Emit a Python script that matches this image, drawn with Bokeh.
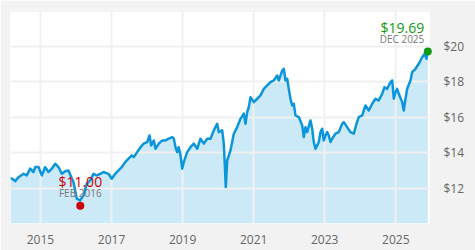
from bokeh.plotting import figure
from bokeh.models import FixedTicker, BoxAnnotation, Range1d
from bokeh.core.properties import value
from bokeh.embed import file_html
from bokeh.resources import INLINE

# ---- data (decimal year, NAV in $) ----
dates_2014 = [2014.147, 2014.240, 2014.288, 2014.381, 2014.522, 2014.614, 2014.710, 2014.803, 2014.851, 2014.944]
vals_2014 = [12.58, 12.47, 12.39, 12.61, 12.80, 12.71, 13.09, 12.90, 13.18, 13.18]
dates_2015 = [2015.037, 2015.132, 2015.225, 2015.318, 2015.414, 2015.507, 2015.600, 2015.695, 2015.788, 2015.929]
vals_2015 = [12.71, 13.18, 12.90, 13.09, 13.37, 13.18, 12.80, 12.95, 12.99, 12.33]
dates_2016 = [2016.022, 2016.117, 2016.210, 2016.303, 2016.399, 2016.492, 2016.585, 2016.680, 2016.773, 2016.914]
vals_2016 = [11.40, 11.30, 11.58, 12.24, 12.43, 12.80, 12.71, 12.80, 12.90, 12.80]
dates_2017 = [2017.007, 2017.102, 2017.195, 2017.288, 2017.384, 2017.477, 2017.570, 2017.626, 2017.722, 2017.815, 2017.907]
vals_2017 = [12.52, 12.80, 12.99, 13.18, 13.46, 13.65, 13.84, 13.74, 14.02, 14.30, 14.50]
dates_2018 = [2018.003, 2018.068, 2018.116, 2018.189, 2018.237, 2018.330, 2018.425, 2018.518, 2018.611, 2018.707,
              2018.752, 2018.800, 2018.847, 2018.892, 2018.940, 2018.988]
vals_2018 = [14.59, 14.96, 14.40, 14.68, 14.21, 14.50, 14.68, 14.68, 14.78, 14.87,
             14.78, 14.30, 14.02, 14.30, 13.84, 13.09]
dates_2019 = [2019.033, 2019.129, 2019.222, 2019.315, 2019.410, 2019.503, 2019.596, 2019.692, 2019.785, 2019.878, 2019.973]
vals_2019 = [13.46, 14.02, 14.30, 14.50, 14.21, 14.78, 14.50, 14.78, 14.78, 15.25, 15.62]
dates_2020 = [2020.018, 2020.114, 2020.159, 2020.187, 2020.215, 2020.255, 2020.348, 2020.441, 2020.536, 2020.629,
              2020.722, 2020.770, 2020.818, 2020.863, 2020.911]
vals_2020 = [15.15, 15.25, 14.50, 13.37, 12.05, 13.55, 14.12, 15.06, 15.43, 15.90,
             16.19, 15.62, 16.28, 16.56, 17.12]
dates_2021 = [2021.003, 2021.099, 2021.192, 2021.285, 2021.381, 2021.474, 2021.566, 2021.662, 2021.707, 2021.803,
              2021.848, 2021.896, 2021.944, 2021.988]
vals_2021 = [16.84, 17.03, 17.22, 17.59, 17.78, 17.97, 18.06, 18.34, 18.06, 18.62,
             18.72, 18.06, 18.16, 17.59]
dates_2022 = [2022.036, 2022.084, 2022.129, 2022.177, 2022.270, 2022.366, 2022.411, 2022.458, 2022.506, 2022.599,
              2022.647, 2022.692, 2022.740, 2022.788, 2022.833, 2022.881, 2022.928, 2022.974]
vals_2022 = [17.03, 16.65, 16.75, 16.09, 16.00, 15.53, 14.87, 15.43, 15.15, 15.81,
             15.34, 14.59, 14.21, 14.40, 14.59, 15.15, 15.34, 14.68]
dates_2023 = [2023.021, 2023.069, 2023.114, 2023.162, 2023.210, 2023.303, 2023.396, 2023.491, 2023.537, 2023.630,
              2023.725, 2023.818, 2023.894, 2023.959]
vals_2023 = [14.96, 15.15, 14.96, 14.59, 14.78, 15.06, 15.15, 15.62, 15.71, 15.43,
             15.15, 15.06, 15.62, 16.00]
dates_2024 = [2024.054, 2024.147, 2024.240, 2024.336, 2024.429, 2024.522, 2024.617, 2024.682, 2024.758, 2024.851,
              2024.899, 2024.944, 2024.992]
vals_2024 = [16.09, 16.65, 16.37, 16.75, 17.03, 16.94, 17.31, 17.68, 17.59, 17.97,
             18.06, 17.03, 17.40]
dates_2025 = [2025.039, 2025.084, 2025.180, 2025.225, 2025.273, 2025.321, 2025.413, 2025.461, 2025.554, 2025.647,
              2025.743, 2025.808, 2025.864, 2025.901]
vals_2025 = [17.59, 17.31, 16.84, 16.37, 17.03, 17.59, 18.06, 18.53, 18.72, 19.00,
             19.37, 19.56, 19.28, 19.69]

# highlighted points: low and latest
low_date = [2016.12]
low_value = [11.00]
low_label = ["FEB 2016"]
last_date = [2025.901]
last_value = [19.69]
last_label = ["DEC 2025"]

# axis ticks
year_ticks = [2015, 2017, 2019, 2021, 2023, 2025]
year_labels = ["2015", "2017", "2019", "2021", "2023", "2025"]
price_ticks = [12, 14, 16, 18, 20]
price_labels = ["$12", "$14", "$16", "$18", "$20"]
price_grid = [12, 14, 16, 18, 20, 22]

dates = (dates_2014 + dates_2015 + dates_2016 + dates_2017 + dates_2018 + dates_2019 +
         dates_2020 + dates_2021 + dates_2022 + dates_2023 + dates_2024 + dates_2025)
values = (vals_2014 + vals_2015 + vals_2016 + vals_2017 + vals_2018 + vals_2019 +
          vals_2020 + vals_2021 + vals_2022 + vals_2023 + vals_2024 + vals_2025)

Y0, Y1 = 10, 22.06
FONT = "Open Sans"
GRAY_TXT = "#666666"

p = figure(width=475, height=250, output_backend="svg", toolbar_location=None,
           x_range=Range1d(2014.156, 2025.949), y_range=Range1d(Y0, Y1),
           y_axis_location="right",
           min_border_left=10, min_border_right=46, min_border_top=9, min_border_bottom=27)
p.border_fill_color = "#f2f2f2"
p.background_fill_color = "white"
p.outline_line_color = None

xa = p.xaxis[0]
xa.ticker = FixedTicker(ticks=year_ticks)
xa.major_label_overrides = {t: l for t, l in zip(year_ticks, year_labels)}
ya = p.yaxis[0]
ya.ticker = FixedTicker(ticks=price_ticks)
ya.major_label_overrides = {t: l for t, l in zip(price_ticks, price_labels)}
for ax in (xa, ya):
    ax.axis_line_color = None
    ax.major_tick_line_color = None
    ax.minor_tick_line_color = None
    ax.major_label_text_font = FONT
    ax.major_label_text_font_size = "12px"
    ax.major_label_text_color = GRAY_TXT
xa.major_label_standoff = 5
ya.major_label_standoff = 8

p.xgrid.ticker = FixedTicker(ticks=year_ticks)
p.ygrid.ticker = FixedTicker(ticks=price_grid)
for g in (p.xgrid[0], p.ygrid[0]):
    g.grid_line_color = "#f0f0f0"
    g.grid_line_width = 2

# area + line
p.varea(x=dates, y1=Y0, y2=values, fill_color="#cce9f7", level="image")
p.line(dates, values, line_color="#0b96dc", line_width=2.5, line_join="round")

# markers
p.scatter(low_date, low_value, size=8, fill_color="#cc0000", line_color=None, level="overlay")
p.scatter(last_date, last_value, size=8, fill_color="#109a10", line_color=None, level="overlay")

# annotations text
p.text(x=low_date, y=low_value, text=[f"${v:.2f}" for v in low_value], text_align="center",
       text_baseline="alphabetic", y_offset=-24.5, text_font=value(FONT), text_font_size="14px",
       text_color="#cc0000", level="overlay")
p.text(x=low_date, y=low_value, text=low_label, text_align="center",
       text_baseline="alphabetic", y_offset=-12.5, text_font=value(FONT), text_font_size="10px",
       text_color="#777777", level="overlay")
p.text(x=last_date, y=last_value, text=[f"${v:.2f}" for v in last_value], text_align="right",
       text_baseline="alphabetic", x_offset=-3.5, y_offset=-24.5, text_font=value(FONT),
       text_font_size="14px", text_color="#109a10", level="overlay")
p.text(x=last_date, y=last_value, text=last_label, text_align="right",
       text_baseline="alphabetic", x_offset=-3.5, y_offset=-12.5, text_font=value(FONT),
       text_font_size="10px", text_color="#777777", level="overlay")

# frame decorations (canvas units)
def box(l, r, t, b, color):
    return BoxAnnotation(left=l, right=r, top=t, bottom=b,
                         left_units="canvas", right_units="canvas", top_units="canvas", bottom_units="canvas",
                         fill_color=color, fill_alpha=1, line_color=None)

p.add_layout(box(0, 10, 0, 223, "white"))
p.add_layout(box(10, 429, 2, 9, "white"))
p.add_layout(box(10, 475, 0, 2, "#d9d9d9"))
p.add_layout(box(0, 475, 248, 250, "#d9d9d9"))

open("out.html", "w").write(file_html(p, INLINE))
